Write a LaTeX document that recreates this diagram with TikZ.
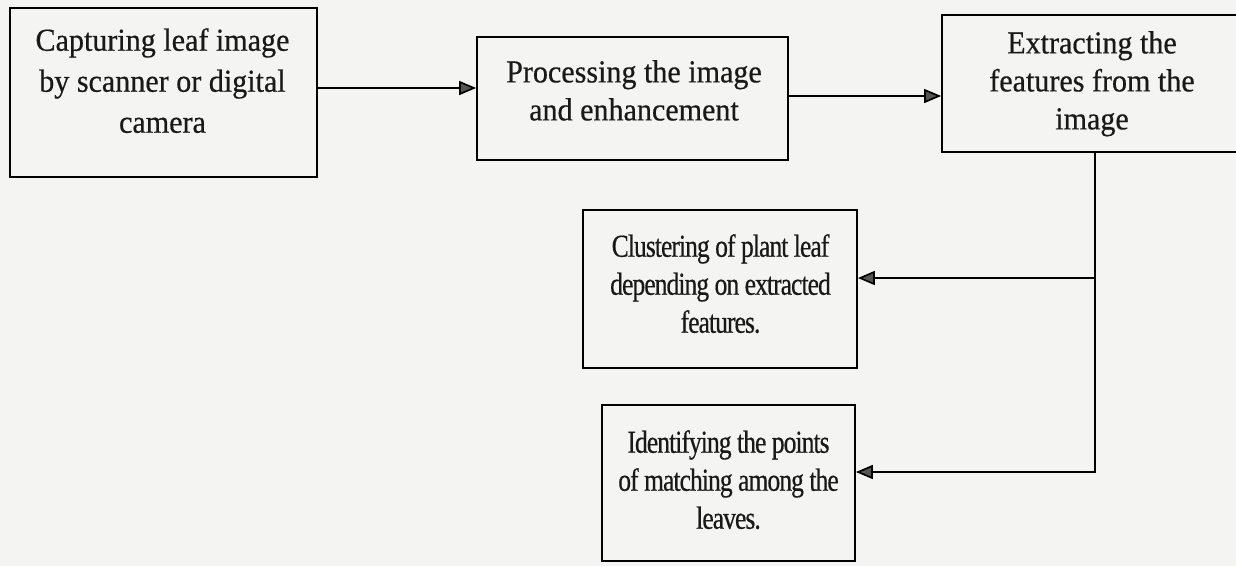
\documentclass[tikz,border=0pt]{standalone}
\usepackage{fontspec}
\setmainfont{Liberation Serif}
\newfontfamily\plainserif[FakeStretch=0.94,FakeBold=0.5]{Liberation Serif}
\newfontfamily\tightserif[FakeStretch=0.8,LetterSpace=-3.0,FakeBold=0.5]{Liberation Serif}
\usetikzlibrary{arrows.meta}
\definecolor{paper}{RGB}{244,244,242}
\definecolor{tipgray}{RGB}{85,85,85}
\begin{document}
\begin{tikzpicture}[x=1pt,y=-1pt,
  box/.style={draw=black, line width=1.8pt, rectangle, inner sep=0pt},
  boxtext/.style={align=center, inner sep=0pt, anchor=north, text=black!90},
  plaintext/.style={boxtext, font=\plainserif\fontsize{32}{38}\selectfont},
  tighttext/.style={boxtext, font=\tightserif\fontsize{32}{38}\selectfont},
  flow/.style={draw=black, line width=1.7pt, -{Triangle[length=17pt,width=14pt,fill=tipgray]}}]

% page
\fill[paper] (0,0) rectangle (1236,566);
\useasboundingbox (0,0) rectangle (1236,566);

% boxes
\node[box, minimum width=307pt, minimum height=169pt] (capture)  at (163.5,92.5) {};
\node[box, minimum width=311pt, minimum height=123pt] (process)  at (632.5,98.5) {};
\node[box, minimum width=296pt, minimum height=137pt] (extract)  at (1090,83.5) {};
\node[box, minimum width=274pt, minimum height=158pt] (cluster)  at (720,289) {};
\node[box, minimum width=253pt, minimum height=156pt] (identify) at (728.5,483) {};

% box texts
\node[plaintext, font=\plainserif\fontsize{32}{41}\selectfont] (capturetext) at (162.5,28)
  {Capturing leaf image\\by scanner or digital\\camera};
\node[plaintext] (processtext)  at (634,60)     {Processing the image\\and enhancement};
\node[plaintext] (extracttext)  at (1092,31)    {Extracting the\\features from the\\image};
\node[tighttext] (clustertext)  at (720.5,234)  {Clustering of plant leaf\\depending on extracted\\features.};
\node[tighttext] (identifytext) at (728.5,430)  {Identifying the points\\of matching among the\\leaves.};

% connectors
\draw[flow] ([yshift=4.5pt]capture.east) -- ([yshift=4.5pt]capture.east -| process.west);
\draw[flow] ([yshift=2.5pt]process.east) -- ([yshift=2.5pt]process.east -| extract.west);
\coordinate (trunk) at ([xshift=5pt]extract.south);
\draw[flow] (trunk) |- ([yshift=11pt]identify.east);
\draw[flow] ([yshift=11pt]cluster.east -| trunk) -- ([yshift=11pt]cluster.east);
\end{tikzpicture}
\end{document}
